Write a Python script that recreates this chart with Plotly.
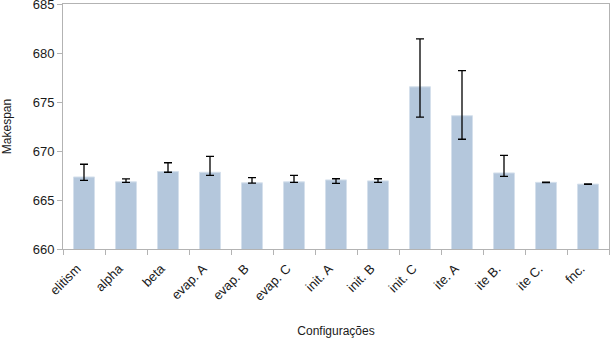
import plotly.graph_objects as go

# ── Data ───────────────────────────────────────────────────────────────────────
configs = ["elitism", "alpha", "beta", "evap. A", "evap. B", "evap. C",
           "init. A", "init. B", "init. C", "ite. A", "ite B.", "ite C.", "fnc."]
makespan = [667.35, 666.85, 667.9, 667.83, 666.75, 666.85,
            667.05, 666.95, 676.55, 673.6, 667.76, 666.8, 666.62]
err_plus = [1.3, 0.3, 0.9, 1.63, 0.53, 0.67,
            0.12, 0.22, 4.9, 4.6, 1.8, 0.02, 0.02]
err_minus = [0.35, 0.05, 0.07, 0.31, 0.02, 0.05,
             0.35, 0.15, 3.1, 2.4, 0.34, 0.02, 0.02]
y_ticks = [660, 665, 670, 675, 680, 685]

_FAMILY = "Liberation Sans, Arial, sans-serif"
_TICKFONT = dict(family=_FAMILY, size=13, color="#1a1a1a")
_TITLEFONT = dict(family=_FAMILY, size=12, color="#1a1a1a")
_AXIS = dict(showline=True, linecolor="#b3b3b3", linewidth=1, mirror=True,
             ticks="outside", ticklen=5, tickcolor="#b3b3b3", showgrid=False,
             zeroline=False, automargin=False, tickfont=_TICKFONT,
             ticklabeloverflow="allow")

fig = go.Figure()
fig.add_trace(go.Bar(
    x=configs, y=makespan,
    marker=dict(color="#b4c7dc", line=dict(color="#d5e0ec", width=1)),
    width=0.5,
    error_y=dict(type="data", symmetric=False, array=err_plus,
                 arrayminus=err_minus, color="black", thickness=1.3, width=4),
))

fig.update_layout(
    width=610, height=338,
    paper_bgcolor="white", plot_bgcolor="white",
    margin=dict(l=63, r=1, t=4, b=89),
    font=dict(family=_FAMILY, size=13, color="#1a1a1a"),
    showlegend=False, bargap=0.5,
)
fig.update_yaxes(range=[660, 685], tickvals=y_ticks, ticktext=[str(v) for v in y_ticks],
                 title=dict(text="Makespan", font=_TITLEFONT, standoff=18), **_AXIS)
fig.update_xaxes(tickangle=-45, tickson="boundaries",
                 ticklabelshift=-7, ticklabelstandoff=6,
                 title=dict(text="Configurações", font=_TITLEFONT, standoff=27), **_AXIS)

fig.write_html("out.html", config=dict(displayModeBar=False),
               post_script="document.body.style.margin='0';")
